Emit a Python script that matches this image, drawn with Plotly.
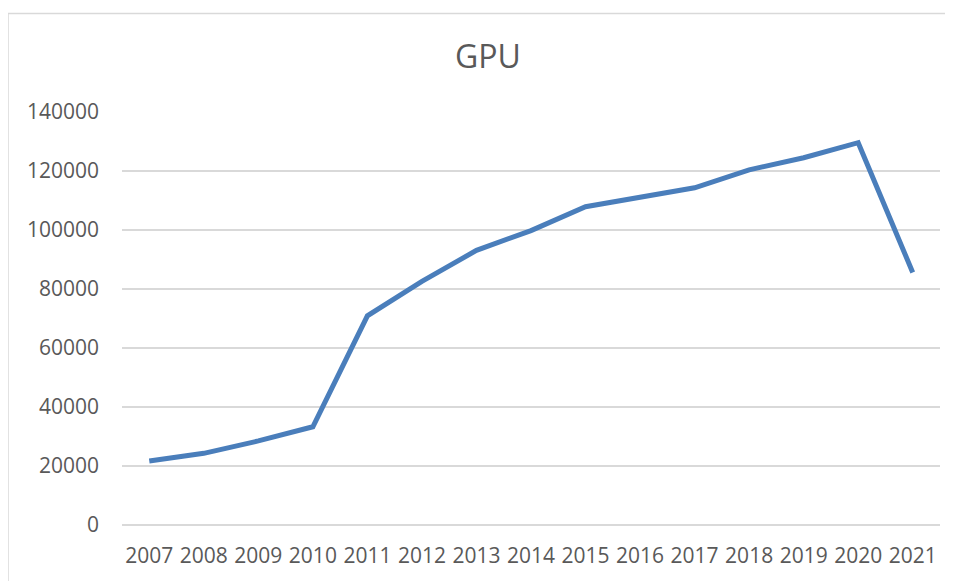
import plotly.graph_objects as go

# GPU values per year
years = ["2007", "2008", "2009", "2010", "2011", "2012", "2013", "2014",
         "2015", "2016", "2017", "2018", "2019", "2020", "2021"]
gpu = [21700, 24300, 28500, 33300, 70900, 82600, 93100, 99800,
       107900, 111000, 114300, 120400, 124500, 129600, 85600]

y_ticks = [0, 20000, 40000, 60000, 80000, 100000, 120000, 140000]

text_color = "#595959"
grid_color = "#d9d9d9"

# the page body has an 8px margin, so the figure is drawn 8px in from the corner
W, H = 945, 573

fig = go.Figure()
fig.add_trace(go.Scatter(
    x=years, y=gpu, mode="lines",
    line=dict(color="#4a7ebb", width=5),
    showlegend=False,
))

fig.update_layout(
    width=W, height=H,
    margin=dict(l=114, r=13, t=104, b=54),
    paper_bgcolor="white", plot_bgcolor="white",
    font=dict(family="Open Sans, Liberation Sans, sans-serif", color=text_color, size=21),
    title=dict(text="GPU", x=480 / W, xanchor="center",
               y=1 - 49 / H, yanchor="middle",
               font=dict(size=32, color=text_color)),
    xaxis=dict(type="category", range=[-0.5, len(years) - 0.5],
               showgrid=False, showline=False, zeroline=False,
               ticks="", ticklabelstandoff=16,
               tickfont=dict(size=21, color=text_color)),
    yaxis=dict(range=[0, 140000], tickvals=y_ticks,
               ticktext=[str(v) for v in y_ticks],
               showgrid=True, gridcolor=grid_color, gridwidth=1.5,
               zeroline=True, zerolinecolor=grid_color, zerolinewidth=1.5,
               showline=False, ticks="", ticklabelstandoff=22,
               tickfont=dict(size=21, color=text_color)),
    # chart area border, extends past the right and bottom edges
    shapes=[dict(type="rect", xref="paper", yref="paper",
                 x0=-114 / 818, x1=1.2,
                 y0=-0.3, y1=1 + 99 / 415,
                 line=dict(color=grid_color, width=1.5),
                 fillcolor="rgba(0,0,0,0)", layer="below")],
)

fig.write_html("out.html")
